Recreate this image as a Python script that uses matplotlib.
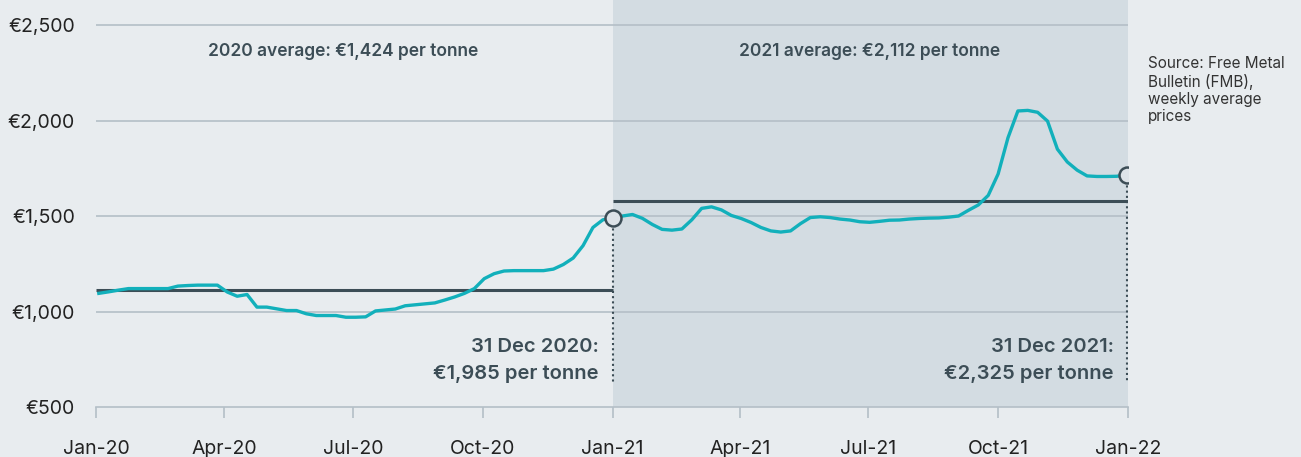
import matplotlib
matplotlib.use("Agg")
import matplotlib.pyplot as plt
import pandas as pd

# ---- data ----
start_date = "2020-01-03"
prices_2020 = [1095, 1103, 1112, 1120, 1120, 1120, 1120, 1120, 1133, 1136,
               1138, 1138, 1138, 1102, 1080, 1089, 1023, 1023, 1014, 1005,
               1005, 988, 979, 979, 979, 970, 970, 972, 1003, 1008,
               1013, 1030, 1035, 1040, 1045, 1060, 1076, 1095, 1120, 1172,
               1198, 1212, 1214, 1214, 1214, 1214, 1222, 1246, 1280, 1345,
               1440, 1480]
prices_2021 = [1490, 1500, 1508, 1488, 1456, 1430, 1426, 1432, 1480, 1540,
               1548, 1532, 1503, 1487, 1466, 1440, 1422, 1416, 1422, 1460,
               1492, 1496, 1492, 1484, 1479, 1470, 1467, 1472, 1478, 1479,
               1484, 1487, 1489, 1490, 1494, 1500, 1530, 1558, 1608, 1720,
               1910, 2050, 2053, 2043, 1997, 1850, 1783, 1740, 1710, 1707,
               1707, 1708, 1716]
avg_2020_level = 1110
avg_2021_level = 1578
y_ticks = [500, 1000, 1500, 2000, 2500]
y_labels = ["€500", "€1,000", "€1,500", "€2,000", "€2,500"]
x_tick_dates = ["2020-01-01", "2020-04-01", "2020-07-01", "2020-10-01", "2021-01-01",
                "2021-04-01", "2021-07-01", "2021-10-01", "2022-01-01"]
x_labels = ["Jan-20", "Apr-20", "Jul-20", "Oct-20", "Jan-21",
            "Apr-21", "Jul-21", "Oct-21", "Jan-22"]
avg_2020_text = "2020 average: €1,424 per tonne"
avg_2021_text = "2021 average: €2,112 per tonne"
end_2020_text = "31 Dec 2020:\n€1,985 per tonne"
end_2021_text = "31 Dec 2021:\n€2,325 per tonne"
source_text = "Source: Free Metal\nBulletin (FMB),\nweekly average\nprices"

prices = prices_2020 + prices_2021
dates = pd.date_range(start_date, periods=len(prices), freq="7D")

# ---- style ----
BG = "#e8ecef"
SHADE = "#d3dce2"
TEAL = "#12b0bb"
DARK = "#3c4d56"
GRID = "#b4bfc7"
plt.rcParams["font.family"] = ["Inter", "DejaVu Sans"]

fig = plt.figure(figsize=(13.01, 4.57), dpi=100, facecolor=BG)
ax = fig.add_axes([96 / 1301, 50 / 457, (1128 - 96) / 1301, 407 / 457])
ax.set_facecolor(BG)

x0 = pd.Timestamp("2020-01-01")
x_mid = pd.Timestamp("2021-01-01")
x1 = pd.Timestamp("2022-01-01")
ax.set_xlim(x0, x1)
ax.set_ylim(500, 2631)

ax.axvspan(x_mid, x1, color=SHADE, zorder=0, lw=0)

for yv in y_ticks[1:]:
    ax.axhline(yv, color=GRID, lw=1.2, zorder=1)

# averages
ax.plot([x0, x_mid], [avg_2020_level] * 2, color=DARK, lw=2.2, zorder=2, solid_capstyle="butt")
ax.plot([x_mid, x1], [avg_2021_level] * 2, color=DARK, lw=2.2, zorder=2, solid_capstyle="butt")

# dotted drop lines
ax.plot([dates[52], dates[52]], [prices[52], 625], color=DARK, lw=1.5, ls=(0, (1, 1.5)), zorder=2)
ax.plot([dates[-1], dates[-1]], [prices[-1], 625], color=DARK, lw=1.5, ls=(0, (1, 1.5)), zorder=2)

ax.plot(dates, prices, color=TEAL, lw=2.4, zorder=3, solid_joinstyle="round")
ax.plot([dates[52], dates[-1]], [prices[52], prices[-1]], ls="none", marker="o",
        ms=11.5, mfc="#dde3e8", mec=DARK, mew=1.8, zorder=4)

# axes
for s in ["top", "right", "left"]:
    ax.spines[s].set_visible(False)
ax.spines["bottom"].set_color(GRID)
ax.spines["bottom"].set_linewidth(1.2)
ax.set_yticks(y_ticks)
ax.set_yticklabels(y_labels)
ax.tick_params(axis="y", length=0, pad=15, labelsize=14, labelcolor="#222222")
ax.set_xticks([pd.Timestamp(d) for d in x_tick_dates])
ax.set_xticklabels(x_labels)
ax.tick_params(axis="x", length=8, width=1.2, color=GRID, pad=16, labelsize=14, labelcolor="#222222")

# annotations
ax.text(pd.Timestamp("2020-06-24"), 2360, avg_2020_text, ha="center", va="center",
        fontsize=12.5, fontweight="semibold", color=DARK)
ax.text(pd.Timestamp("2021-07-02"), 2360, avg_2021_text, ha="center", va="center",
        fontsize=12.5, fontweight="semibold", color=DARK)
ax.text(pd.Timestamp("2020-12-22"), 745, end_2020_text, ha="right", va="center",
        fontsize=14.5, fontweight="semibold", color=DARK, linespacing=1.65)
ax.text(pd.Timestamp("2021-12-22"), 745, end_2021_text, ha="right", va="center",
        fontsize=14.5, fontweight="semibold", color=DARK, linespacing=1.65)

fig.text(1148 / 1301, 1 - 56 / 457, source_text, ha="left", va="top",
         fontsize=11, color="#333333", linespacing=1.2)

fig.savefig("out.png", dpi=100, facecolor=BG)
